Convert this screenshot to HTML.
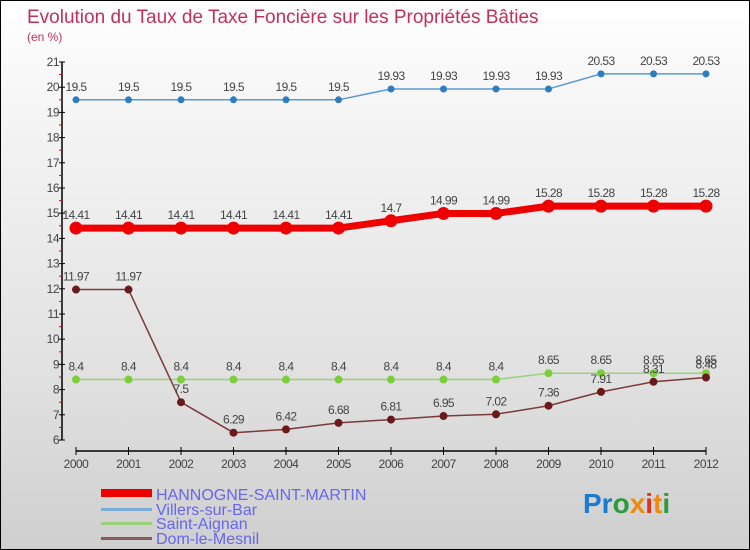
<!DOCTYPE html>
<html><head><meta charset="utf-8"><style>
body{margin:0}
#c{width:750px;height:550px;position:relative;overflow:hidden;box-sizing:border-box;border:1px solid #000;background:linear-gradient(#fff,#f5f5f5 20%,#e0e0e0 70%,#cfcfcf);font-family:"Liberation Sans",sans-serif}
svg{position:absolute;left:0;top:0}
</style></head><body>
<div id="c">
<svg id="s" width="750" height="550">
<text x="26" y="22" font-size="19" fill="#c2305a">Evolution du Taux de Taxe Foncière sur les Propriétés Bâties</text>
<text x="26" y="40" font-size="12" fill="#c2305a">(en %)</text>
<g id="g"></g>
<g>
<rect x="100" y="488" width="51" height="8" fill="#e00"/>
<text x="155" y="499" font-size="16" fill="#6666ee">HANNOGNE-SAINT-MARTIN</text>
<rect x="100" y="507" width="51" height="3" fill="#7aaed6"/>
<text x="155" y="514" font-size="16" fill="#6666ee">Villers-sur-Bar</text>
<rect x="100" y="521" width="51" height="3" fill="#9ad27a"/>
<text x="155" y="528" font-size="16" fill="#6666ee">Saint-Aignan</text>
<rect x="100" y="536" width="51" height="3" fill="#8a5a5a"/>
<text x="155" y="543" font-size="16" fill="#6666ee">Dom-le-Mesnil</text>
</g>
<text x="582" y="512" font-size="28" font-weight="bold"><tspan fill="#1a7bd0">Pr</tspan><tspan fill="#2a9a3a">o</tspan><tspan fill="#f08a10">x</tspan><tspan fill="#e03020">i</tspan><tspan fill="#f08a10">t</tspan><tspan fill="#2a9a3a">i</tspan></text>
</svg>
</div>
<script>
const years=["2000","2001","2002","2003","2004","2005","2006","2007","2008","2009","2010","2011","2012"];
const hannogne=[14.41,14.41,14.41,14.41,14.41,14.41,14.7,14.99,14.99,15.28,15.28,15.28,15.28];
const villers=[19.5,19.5,19.5,19.5,19.5,19.5,19.93,19.93,19.93,19.93,20.53,20.53,20.53];
const aignan=[8.4,8.4,8.4,8.4,8.4,8.4,8.4,8.4,8.4,8.65,8.65,8.65,8.65];
const dom=[11.97,11.97,7.5,6.29,6.42,6.68,6.81,6.95,7.02,7.36,7.91,8.31,8.48];
const yTicks=[6,7,8,9,10,11,12,13,14,15,16,17,18,19,20,21];
const NS="http://www.w3.org/2000/svg";
const g=document.getElementById('g');
const X=i=>75+i*52.5;
const Y=v=>439-(v-6)*25.2;
function el(t,a){const e=document.createElementNS(NS,t);for(const k in a)e.setAttribute(k,a[k]);g.appendChild(e);return e;}
let e=el('line',{x1:61,y1:61,x2:61,y2:439,stroke:'#000','stroke-width':1.5});


e=el('line',{x1:75,y1:450,x2:705,y2:450,stroke:'#000','stroke-width':1.5});


yTicks.forEach(v=>{
 const t=el('line',{x1:58,x2:64,y1:Y(v),y2:Y(v),stroke:'#000'});
 
 
 if(v<21){const r=el('line',{x1:58,x2:61,y1:Y(v+0.5),y2:Y(v+0.5),stroke:'#e00'});
 
 }
 const l=el('text',{x:58,y:Y(v)+4,'text-anchor':'end','font-size':12,fill:'#444','letter-spacing':'-0.5'});
 l.textContent=v;
 
 
});
years.forEach((y,i)=>{
 const t=el('line',{x1:X(i),x2:X(i),y1:446,y2:454,stroke:'#000'});
 
 
 const l=el('text',{x:X(i),y:467,'text-anchor':'middle','font-size':12,fill:'#444','letter-spacing':'-0.5'});
 l.textContent=y;
 
 
});
function series(d,name,color,w,r,dot,fs){
 const p=el('polyline',{points:d.map((v,i)=>X(i)+','+Y(v)).join(' '),fill:'none',stroke:color,'stroke-width':w,'stroke-linejoin':'round'});
 
 
 d.forEach((v,i)=>{
  const c=el('circle',{cx:X(i),cy:Y(v),r:r,fill:dot});
  
  
  const t=el('text',{x:X(i),y:Y(v)-9,'text-anchor':'middle','font-size':fs,fill:'#444','letter-spacing':'-0.6'});
  t.textContent=v;
  
  
 });
}
series(villers,'villers','#5a9ad0',1.5,3.5,'#2f7dc0',12);
series(aignan,'saint-aignan','#9ad27a',1.5,4,'#7ccf3a',12);
series(dom,'dom-le-mesnil','#7a3a3a',1.5,4,'#6a1a1a',12);
series(hannogne,'hannogne','#ee0000',7,6.5,'#ee0000',12);
</script>
</body></html>
